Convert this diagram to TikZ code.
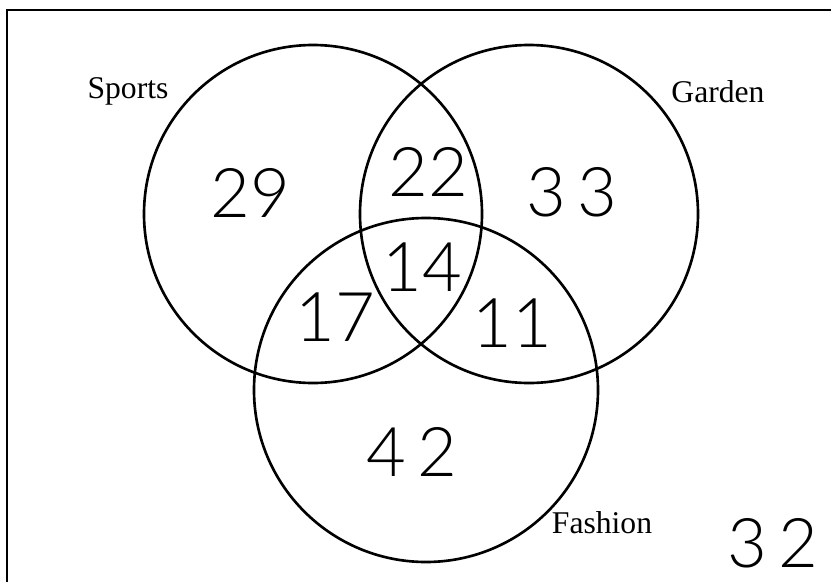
\documentclass[tikz,border=0pt]{standalone}
\usepackage{fontspec}
\setmainfont{Liberation Serif}
\newfontfamily\handfont{Lato}[UprightFont=* Light]
\usetikzlibrary{positioning}

\tikzset{
    venn/.style={circle, draw, line width=1.5pt, minimum size=6.76cm, inner sep=0pt},
    setname/.style={font=\fontsize{18}{21}\selectfont, anchor=base},
    tally/.style={font=\handfont\fontsize{39}{41}\selectfont, inner sep=0pt}
}

\begin{document}
\begin{tikzpicture}
    \useasboundingbox (0,0) rectangle (16.62,11.62);
    \clip (0,0) rectangle (16.62,11.62);

    % frame, right and bottom edges run off the page
    \draw[line width=1.2pt] (0.14,-0.5) |- (17.2,11.42);

    % the three sets
    \node[venn] (sports) at (6.26,7.34) {};
    \node[venn] (garden) at (10.58,7.34) {};
    \node[venn, minimum size=6.88cm] (fashion) at (8.52,3.82) {};

    \node[setname] (sportsname) at (2.56,9.66) {Sports};
    \node[setname] (gardenname) at (14.36,9.58) {Garden};
    \node[setname] (fashionname) at (12.04,0.96) {Fashion};

    % counts
    \node[tally] (sOnly) at (5.00,7.76) {29};
    \node[tally] (sg) at (8.56,8.18) {22};
    \node[tally] (gOnly) at (11.44,7.78) {3\,3};
    \node[tally] (sgf) at (8.44,6.28) {14};
    \node[tally] (sf) at (6.70,5.28) {17};
    \node[tally] (gf) at (10.24,5.16) {11};
    \node[tally] (fOnly) at (8.24,2.58) {4\,2};
    \node[tally] (none) at (15.46,0.76) {3\,2};
\end{tikzpicture}
\end{document}
